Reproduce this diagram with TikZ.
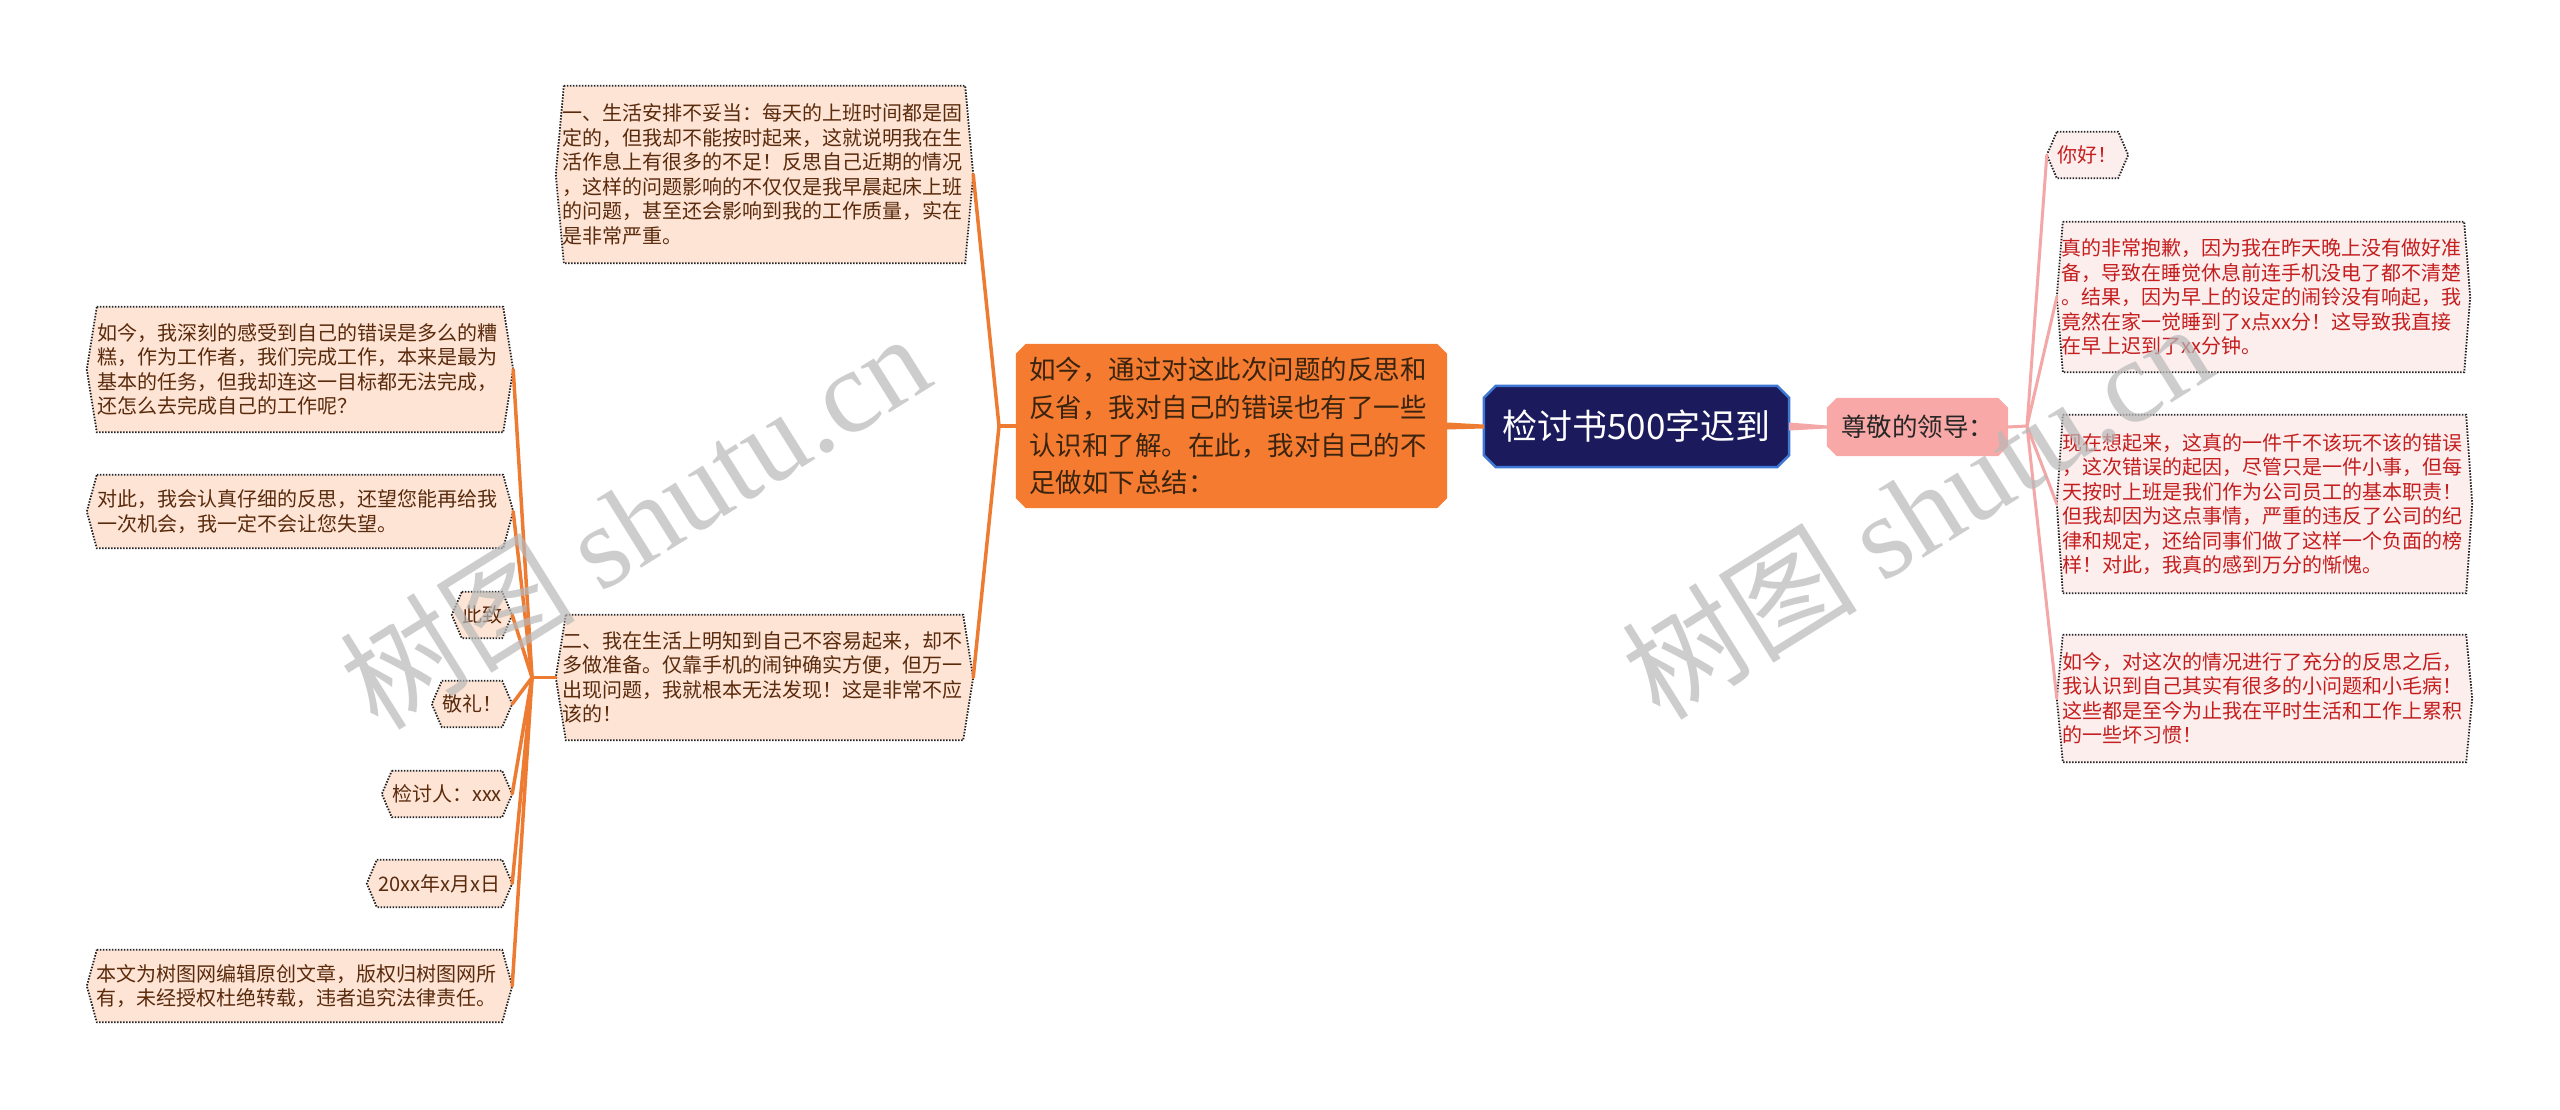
\documentclass[tikz,border=0pt]{standalone}
\usepackage{fontspec}
\setmainfont{Noto Sans CJK SC}
\newfontfamily\wmlatin{Liberation Serif}
\usetikzlibrary{backgrounds}
\definecolor{orangeL}{HTML}{EE7B32}
\definecolor{mainfill}{HTML}{F47B2F}
\definecolor{rootfill}{HTML}{1B1A5C}
\definecolor{rootborder}{HTML}{3E78D4}
\definecolor{pinkfill}{HTML}{F8A9A7}
\definecolor{pinkline}{HTML}{F4A7A7}
\definecolor{lfill}{HTML}{FDE4D5}
\definecolor{rfill}{HTML}{FDEEEE}
\definecolor{ltext}{HTML}{5A2A0C}
\definecolor{rtext}{HTML}{C41E1E}
\definecolor{maintext}{HTML}{3A2410}
\definecolor{wmgray}{HTML}{B8B8B8}
\definecolor{dotborder}{HTML}{222222}
\newcommand\boxfont{\fontsize{20pt}{24.5pt}\selectfont}
\newcommand\mainfont{\fontsize{26.5pt}{37.7pt}\selectfont}
\newcommand\rootfont{\fontsize{35pt}{40pt}\selectfont}
\newcommand\pinkfont{\fontsize{25.5pt}{30pt}\selectfont}
\newcommand\hexframe[3]{%
  \begin{pgfonlayer}{background}
  \path[#2] ([xshift=#3]#1.north west) -- ([xshift=-#3]#1.north east) -- (#1.east)
    -- ([xshift=-#3]#1.south east) -- ([xshift=#3]#1.south west) -- (#1.west) -- cycle;
  \end{pgfonlayer}}
\newcommand\octframe[3]{%
  \begin{pgfonlayer}{background}
  \path[#2] ([xshift=#3]#1.north west) -- ([xshift=-#3]#1.north east) -- ([yshift=-#3]#1.north east)
    -- ([yshift=#3]#1.south east) -- ([xshift=-#3]#1.south east) -- ([xshift=#3]#1.south west)
    -- ([yshift=#3]#1.south west) -- ([yshift=-#3]#1.north west) -- cycle;
  \end{pgfonlayer}}
\tikzset{
  lbox/.style={inner sep=0pt, text=ltext, font=\boxfont, align=left},
  rbox/.style={inner sep=0pt, text=rtext, font=\boxfont, align=left},
  lsmall/.style={inner sep=0pt, text=ltext, font=\boxfont, align=center},
  rsmall/.style={inner sep=0pt, text=rtext, font=\boxfont, align=center},
  lframe/.style={fill=lfill, draw=dotborder, line width=1.8pt, dash pattern=on 1.5pt off 1.5pt},
  rframe/.style={fill=rfill, draw=dotborder, line width=1.8pt, dash pattern=on 1.5pt off 1.5pt},
  oline/.style={draw=orangeL, line width=3.5pt, line cap=round},
  pline/.style={draw=pinkline, line width=3pt, line cap=round},
  wmark/.style={text=wmgray, opacity=0.7, font=\fontsize{118pt}{120pt}\selectfont, rotate=32, anchor=base west, inner sep=0pt}
}
\begin{document}
\begin{tikzpicture}[x=1pt,y=-1pt]
\useasboundingbox (0,0) rectangle (2560,1110);
\begin{pgfonlayer}{background}
\fill[white] (0,0) rectangle (2560,1110);
\end{pgfonlayer}

% central nodes
\node[inner sep=0pt, minimum width=305pt, minimum height=81pt, text=white, font=\rootfont] (root) at (1636.5,426.5) {检讨书500字迟到};
\octframe{root}{fill=rootfill, draw=rootborder, line width=2.5pt}{12pt}
\node[inner sep=0pt, minimum width=431pt, minimum height=164pt, text width=405pt, align=left, text=maintext, font=\mainfont] (main) at (1231.5,426) {如今，通过对这此次问题的反思和\\反省，我对自己的错误也有了一些\\认识和了解。在此，我对自己的不\\足做如下总结：};
\octframe{main}{fill=mainfill}{10pt}
\node[inner sep=0pt, minimum width=181pt, minimum height=58pt, text=black!85, font=\pinkfont] (pink) at (1917.5,427) {尊敬的领导：};
\octframe{pink}{fill=pinkfill}{10pt}

% left level 2
\node[lbox, minimum width=417pt, minimum height=177pt, text width=405pt] (l1) at (764.5,174.5) {一、生活安排不妥当：每天的上班时间都是固\\定的，但我却不能按时起来，这就说明我在生\\活作息上有很多的不足！反思自己近期的情况\\，这样的问题影响的不仅仅是我早晨起床上班\\的问题，甚至还会影响到我的工作质量，实在\\是非常严重。};
\hexframe{l1}{lframe}{8pt}
\node[lbox, minimum width=417pt, minimum height=125pt, text width=405pt] (l2) at (764.5,677.5) {二、我在生活上明知到自己不容易起来，却不\\多做准备。仅靠手机的闹钟确实方便，但万一\\出现问题，我就根本无法发现！这是非常不应\\该的！};
\hexframe{l2}{lframe}{10pt}

% left level 3
\node[lbox, minimum width=426pt, minimum height=125pt, text width=406pt] (c1) at (300,369.5) {如今，我深刻的感受到自己的错误是多么的糟\\糕，作为工作者，我们完成工作，本来是最为\\基本的任务，但我却连这一目标都无法完成，\\还怎么去完成自己的工作呢？};
\hexframe{c1}{lframe}{10pt}
\node[lbox, minimum width=426pt, minimum height=73pt, text width=406pt] (c2) at (300,511.5) {对此，我会认真仔细的反思，还望您能再给我\\一次机会，我一定不会让您失望。};
\hexframe{c2}{lframe}{10pt}
\node[lsmall, minimum width=60pt, minimum height=46pt] (c3) at (482,615) {此致};
\hexframe{c3}{lframe}{10pt}
\node[lsmall, minimum width=80pt, minimum height=46pt] (c4) at (472,704) {敬礼！};
\hexframe{c4}{lframe}{10pt}
\node[lsmall, minimum width=130pt, minimum height=46pt] (c5) at (447,794) {检讨人：xxx};
\hexframe{c5}{lframe}{10pt}
\node[lsmall, minimum width=145pt, minimum height=47pt] (c6) at (439.5,883.5) {20xx年x月x日};
\hexframe{c6}{lframe}{10pt}
\node[lbox, minimum width=425pt, minimum height=72pt, text width=406pt] (c7) at (299.5,986) {本文为树图网编辑原创文章，版权归树图网所\\有，未经授权杜绝转载，违者追究法律责任。};
\hexframe{c7}{lframe}{10pt}

% right level 2
\node[rsmall, minimum width=81pt, minimum height=46pt] (r1) at (2087.5,155) {你好！};
\hexframe{r1}{rframe}{10pt}
\node[rbox, minimum width=413pt, minimum height=150pt, text width=404pt] (r2) at (2263.5,297) {真的非常抱歉，因为我在昨天晚上没有做好准\\备，导致在睡觉休息前连手机没电了都不清楚\\。结果，因为早上的设定的闹铃没有响起，我\\竟然在家一觉睡到了x点xx分！这导致我直接\\在早上迟到了xx分钟。};
\hexframe{r2}{rframe}{6pt}
\node[rbox, minimum width=415pt, minimum height=178pt, text width=404pt] (r3) at (2264.5,504) {现在想起来，这真的一件千不该玩不该的错误\\，这次错误的起因，尽管只是一件小事，但每\\天按时上班是我们作为公司员工的基本职责！\\但我却因为这点事情，严重的违反了公司的纪\\律和规定，还给同事们做了这样一个负面的榜\\样！对此，我真的感到万分的惭愧。};
\hexframe{r3}{rframe}{6pt}
\node[rbox, minimum width=415pt, minimum height=127pt, text width=404pt] (r4) at (2264.5,698.5) {如今，对这次的情况进行了充分的反思之后，\\我认识到自己其实有很多的小问题和小毛病！\\这些都是至今为止我在平时生活和工作上累积\\的一些坏习惯！};
\hexframe{r4}{rframe}{6pt}

% fan points
\coordinate (fanL) at (999,426);
\coordinate (fanL2) at (532,677.5);
\coordinate (fanR) at (2027,426);

% tapered connectors from root
\fill[orangeL] ([yshift=3.5pt]main.east) -- ([yshift=2pt]root.west) -- ([yshift=-2pt]root.west) -- ([yshift=-3.5pt]main.east) -- cycle;
\fill[pinkline] ([yshift=4pt]root.east) -- ([yshift=1.5pt]pink.west) -- ([yshift=-1.5pt]pink.west) -- ([yshift=-4pt]root.east) -- cycle;

% left connectors
\draw[oline] (main.west) -- (fanL);
\draw[oline] (fanL) -- (l1.east);
\draw[oline] (fanL) -- (l2.east);
\draw[oline] (l2.west) -- (fanL2);
\foreach \c in {c1,c2,c3,c4,c5,c6,c7} \draw[oline] (fanL2) -- (\c.east);

% right connectors
\draw[pline] (pink.east) -- (fanR);
\foreach \c in {r1,r2,r3,r4} \draw[pline] (fanR) -- (\c.west);

% watermarks
\node[wmark] (wm1) at (378,733) {树图 {\wmlatin shutu.cn}};
\node[wmark] (wm2) at (1660,723) {树图 {\wmlatin shutu.cn}};
\end{tikzpicture}
\end{document}
